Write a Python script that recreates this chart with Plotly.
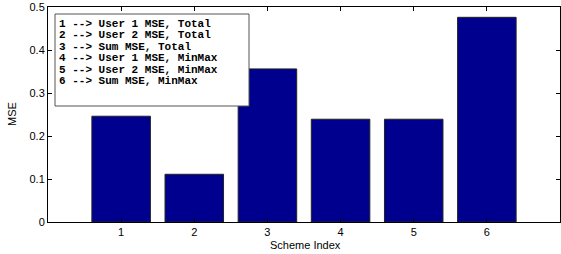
import plotly.graph_objects as go

schemes = [1, 2, 3, 4, 5, 6]
mse_values = [0.246, 0.111, 0.356, 0.239, 0.239, 0.476]
y_ticks = [0, 0.1, 0.2, 0.3, 0.4, 0.5]
y_tick_labels = ["0", "0.1", "0.2", "0.3", "0.4", "0.5"]
x_title = "Scheme Index"
y_title = "MSE"
legend_lines = [
    "1 --> User 1 MSE, Total",
    "2 --> User 2 MSE, Total",
    "3 --> Sum MSE, Total",
    "4 --> User 1 MSE, MinMax",
    "5 --> User 2 MSE, MinMax",
    "6 --> Sum MSE, MinMax",
]

fig = go.Figure()
fig.add_trace(go.Bar(
    x=schemes, y=mse_values, width=0.8,
    marker=dict(color="#00008F", line=dict(color="#222222", width=1)),
    showlegend=False, hoverinfo="skip",
))

axis_font = dict(family="Liberation Sans, Arial, sans-serif", size=11, color="black")
fig.update_xaxes(
    range=[0, 7], tickvals=schemes, ticktext=[str(s) for s in schemes],
    ticks="inside", ticklen=4, tickcolor="black", showline=True, linecolor="black",
    linewidth=1, mirror="ticks", showgrid=False, zeroline=False, automargin=False,
    tickfont=axis_font,
)
fig.update_yaxes(
    range=[0, 0.5], tickvals=y_ticks, ticktext=y_tick_labels,
    ticks="inside", ticklen=4, tickcolor="black", showline=True, linecolor="black",
    linewidth=1, mirror="ticks", showgrid=False, zeroline=False, automargin=False,
    tickfont=axis_font,
)

W, H = 561, 254
L, R, T, B = 48, 1, 7, 32
pw, ph = W - L - R, H - T - B

def px_x(x):
    return (x - L) / pw

def px_y(y):
    return (H - B - y) / ph

fig.add_annotation(xref="paper", yref="paper", x=px_x(305), y=px_y(245),
                   xanchor="center", yanchor="middle", showarrow=False,
                   text=x_title, font=axis_font)
fig.add_annotation(xref="paper", yref="paper", x=px_x(12), y=px_y(114),
                   xanchor="center", yanchor="middle", showarrow=False,
                   text=y_title, textangle=-90, font=axis_font)

fig.add_shape(type="rect", xref="paper", yref="paper",
              x0=px_x(55), x1=px_x(249), y0=px_y(106), y1=px_y(14),
              line=dict(color="#555555", width=1), fillcolor="white", layer="above")
for i, txt in enumerate(legend_lines):
    yc = 24 + i * 11.4
    fig.add_annotation(xref="paper", yref="paper", x=px_x(57), y=px_y(yc),
                       xanchor="left", yanchor="middle", showarrow=False,
                       text="<b>" + txt + "</b>",
                       font=dict(family="Liberation Mono, Courier New, monospace", size=11, color="black"))

fig.update_layout(
    width=W, height=H, margin=dict(l=L, r=R, t=T, b=B, autoexpand=False),
    plot_bgcolor="white", paper_bgcolor="white", bargap=0.2, hovermode=False,
)
fig.write_html("out.html", config={"displayModeBar": False},
               post_script="document.body.style.margin='0';document.body.style.overflow='hidden';")
